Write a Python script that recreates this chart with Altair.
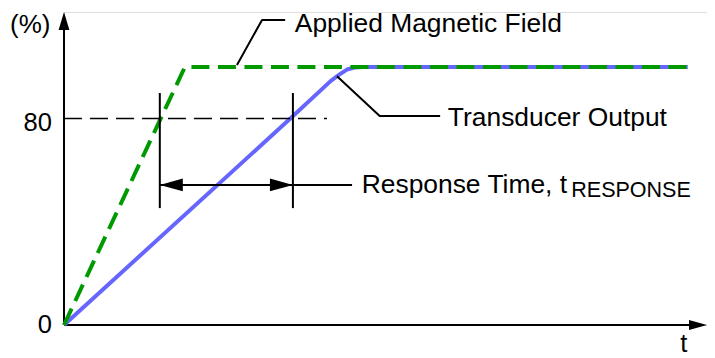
import altair as alt
import pandas as pd

# ---------------- data (time in arbitrary units, level in %) ----------------
green_t = [0, 18.8, 97.0]
green_v = [0, 100, 100]

blue_t = [0, 35.2, 41.5, 42.8, 44.0, 45.2, 46.5, 97.0]
blue_v = [0, 80, 94.6, 97.0, 99.0, 99.8, 100, 100]

thr_level = 80
thr_t = [0, 40.9]

marker_t = [14.9, 35.6]
marker_v = [45.3, 89.9]

resp_level = 54.3
resp_ext_t = [35.6, 44.8]

applied_t = [26.9, 30.8, 34.4]
applied_v = [100.8, 118.2, 118.2]

trans_t = [42.46, 49.1, 58.5]
trans_v = [96.4, 81.0, 81.0]

axis_x_t = [0, 99.0]
axis_y_v = [0, 119.0]
x_tip = [100.0, 0.0]
y_tip = [0.0, 121.3]

labels_left = ["Applied Magnetic Field", "Transducer Output", "Response Time, t"]
labels_left_t = [35.9, 59.7, 46.3]
labels_left_v = [113.6, 77.3, 51.2]

pct_label = ["(%)"]
pct_t = [-8.4]
pct_v = [113.2]

sub_label = ["RESPONSE"]
sub_t = [78.9]
sub_v = [49.6]

tick_labels = ["80", "0"]
tick_t = [-1.87, -1.87]
tick_v = [75.2, -3.1]

t_label = ["t"]
t_label_t = [96.4]
t_label_v = [-10.6]

# ---------------- styling ----------------
FONT = "Liberation Sans"
GREEN = "#009900"
BLUE = "#6666ff"

xs = alt.Scale(domain=[0, 100], nice=False, zero=False)
ys = alt.Scale(domain=[0, 121.3], nice=False, zero=False)
X = alt.X("t:Q", scale=xs, axis=None)
Y = alt.Y("v:Q", scale=ys, axis=None)


def line_layer(ts, vs, color, width, dash=None):
    df = pd.DataFrame({"t": ts, "v": vs, "i": list(range(len(ts)))})
    kw = dict(color=color, strokeWidth=width, strokeCap="butt", strokeJoin="round")
    if dash:
        kw["strokeDash"] = dash
    return alt.Chart(df).mark_line(**kw).encode(x=X, y=Y, order="i:Q")


def head(t, v, path, size):
    df = pd.DataFrame({"t": [t], "v": [v]})
    return alt.Chart(df).mark_point(
        shape=path, size=size, filled=True, color="black", opacity=1, strokeWidth=0
    ).encode(x=X, y=Y)


def text_layer(texts, ts, vs, align, size):
    df = pd.DataFrame({"t": ts, "v": vs, "label": texts})
    return alt.Chart(df).mark_text(
        align=align, baseline="alphabetic", font=FONT, fontSize=size, color="black"
    ).encode(x=X, y=Y, text="label:N")


layers = []
# axes
layers.append(line_layer(axis_x_t, [0, 0], "black", 2))
layers.append(line_layer([0, 0], axis_y_v, "black", 2))
layers.append(head(x_tip[0], x_tip[1], "M0,0L-1,-0.28L-1,0.28Z", 1296))
layers.append(head(y_tip[0], y_tip[1], "M0,0L-0.3,1L0.3,1Z", 1296))

# series
layers.append(line_layer(blue_t, blue_v, BLUE, 4))
layers.append(line_layer(green_t, green_v, GREEN, 4, [18, 8.5]))

# threshold dashed line
layers.append(line_layer(thr_t, [thr_level, thr_level], "black", 1.5, [18, 8]))

# vertical markers
mk = pd.DataFrame({"t": marker_t, "v": [marker_v[0]] * 2, "v2": [marker_v[1]] * 2})
layers.append(alt.Chart(mk).mark_rule(color="black", strokeWidth=2).encode(x=X, y=Y, y2="v2:Q"))

# response arrow
layers.append(line_layer([marker_t[0], marker_t[1]], [resp_level, resp_level], "black", 2))
layers.append(line_layer(resp_ext_t, [resp_level, resp_level], "black", 2))
layers.append(head(marker_t[0], resp_level, "M0,0L1,-0.28L1,0.28Z", 2116))
layers.append(head(marker_t[1], resp_level, "M0,0L-1,-0.28L-1,0.28Z", 2116))

# leader lines
layers.append(line_layer(applied_t, applied_v, "black", 2))
layers.append(line_layer(trans_t, trans_v, "black", 2))

# texts
layers.append(text_layer(labels_left, labels_left_t, labels_left_v, "left", 26.4))
layers.append(text_layer(pct_label, pct_t, pct_v, "left", 26))
layers.append(text_layer(sub_label, sub_t, sub_v, "left", 21.5))
layers.append(text_layer(tick_labels, tick_t, tick_v, "right", 25.5))
layers.append(text_layer(t_label, t_label_t, t_label_v, "center", 25.5))

chart = alt.layer(*layers).properties(
    width=643,
    height=313,
    autosize=alt.AutoSizeParams(type="none"),
    padding={"left": 56, "top": 4, "right": 0, "bottom": 33},
).configure_view(stroke=None).configure(background="white")

chart.save("out.html", embed_options={"renderer": "svg", "actions": False})
